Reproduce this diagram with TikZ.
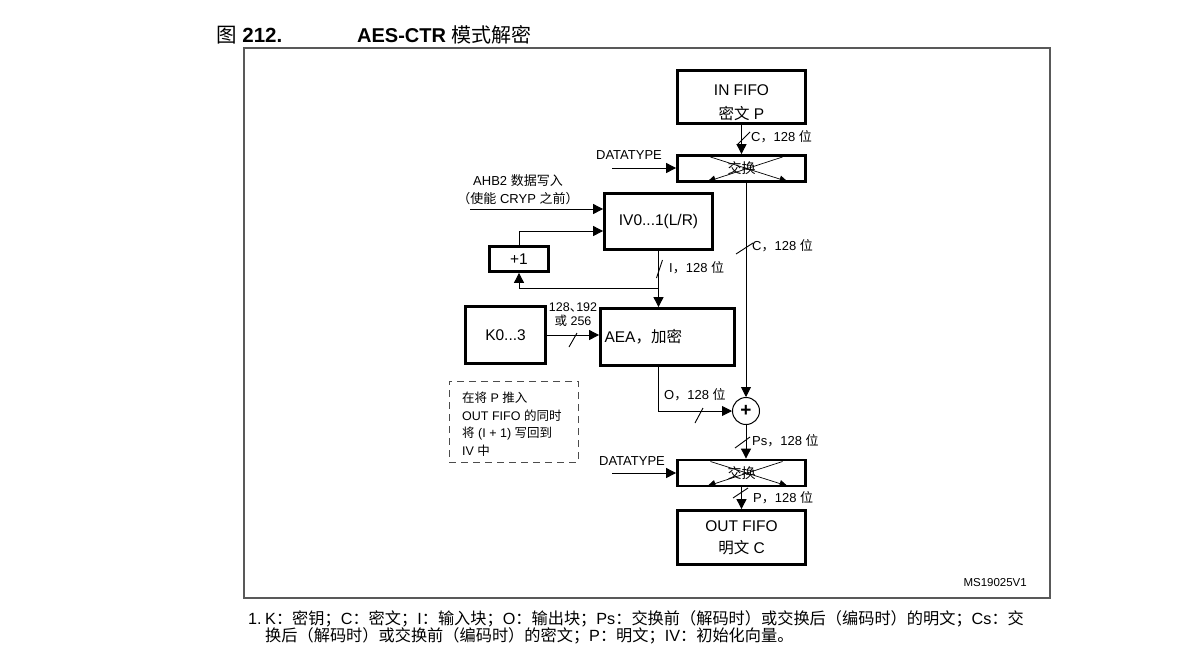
\documentclass[tikz,border=0pt]{standalone}
\usepackage{fontspec}
\setmainfont{Liberation Sans}
\newfontfamily\cjk{Noto Sans CJK SC}
\newcommand\zh[1]{{\cjk #1}}
\usetikzlibrary{arrows.meta}

\begin{document}
\begin{tikzpicture}[x=1pt,y=-1pt,
	blk/.style={draw, line width=2.8pt, inner sep=0pt, align=center, font=\fontsize{15.5}{24}\selectfont},
	swapbox/.style={blk, minimum width=128pt, minimum height=26pt, font=\fontsize{14}{16}\selectfont},
	lbl/.style={inner sep=0pt, anchor=west, font=\fontsize{13}{15}\selectfont},
	fn/.style={inner sep=0pt, anchor=west, font=\fontsize{16.2}{18}\selectfont},
	bus/.style={line width=0.9pt},
	arr/.style={line width=0.9pt, -{Triangle[length=10pt,width=10pt]}},
	xarr/.style={line width=0.7pt, -{Triangle[length=8pt,width=7pt]}}]

\useasboundingbox (0,0) rectangle (1187,654);

% title and frame
\node[anchor=west, inner sep=0pt, font=\fontsize{20.5}{22}\selectfont] (fignum) at (216,35) {\zh{图} \textbf{212.}};
\node[anchor=west, inner sep=0pt, font=\fontsize{20}{22}\selectfont] (title) at (357,35) {\textbf{AES-CTR} \zh{模式解密}};
\draw[line width=1.6pt, black!65] (244,48) rectangle (1050,598);

% blocks
\node[blk, minimum width=128pt, minimum height=53pt] (infifo) at (741.5,97) {\rule{0pt}{23pt}IN FIFO\\\zh{密文} P};
\node[swapbox] (swap1) at (741.5,168.5) {\zh{交换}};
\node[blk, minimum width=108pt, minimum height=56pt] (iv) at (658.5,221.5) {IV0...1(L/R)};
\node[blk, minimum width=59pt, minimum height=25pt] (plus1) at (519,259) {+1};
\node[blk, minimum width=80pt, minimum height=57pt] (kkey) at (505.5,335) {K0...3};
\node[blk, minimum width=134pt, minimum height=57pt, text width=126pt, align=left] (aea) at (667.5,337) {AEA\zh{，加密}};
\node[circle, draw, line width=1pt, minimum size=27pt, inner sep=0pt, font=\fontsize{19}{19}\selectfont\bfseries] (xor) at (746,411) {+};
\node[swapbox] (swap2) at (741.5,473) {\zh{交换}};
\node[blk, minimum width=128pt, minimum height=54pt] (outfifo) at (741.5,537.5) {OUT FIFO\\[-2pt]\zh{明文} C};

% swap crosses
\foreach \s in {swap1,swap2}{
	\draw[xarr] ([shift={(-31,-11.5)}]\s.center) -- ([shift={(46,13)}]\s.center);
	\draw[xarr] ([shift={(41,-11.5)}]\s.center) -- ([shift={(-34,13)}]\s.center);
}

% data path
\draw[arr] (infifo) -- (swap1);
\draw[arr] (swap1.south -| xor) -- (xor);
\draw[arr] (xor) -- (xor |- swap2.north);
\draw[arr] (swap2) -- (outfifo);

\coordinate (dt1) at (612,168);
\coordinate (dt2) at (612,473);
\draw[arr] (dt1) -- (dt1 -| swap1.west);
\draw[arr] (dt2) -- (dt2 -| swap2.west);
\node[lbl, anchor=center] (dt1lbl) at (629,155) {DATATYPE};
\node[lbl, anchor=center] (dt2lbl) at (632,461) {DATATYPE};

\coordinate (ahb) at (470,209);
\draw[arr] (ahb) -- (ahb -| iv.west);
\node[lbl, anchor=center, align=center, font=\fontsize{13}{18}\selectfont] (ahblbl) at (518,190) {AHB2 \zh{数据写入}\\\zh{（使能} CRYP \zh{之前）}};

\draw[arr] (plus1.north) |- ([yshift=-9.5pt]iv.west);
\draw[arr] (iv.south) -- (iv.south |- aea.north);
\coordinate (brk) at (0,288);
\coordinate (br) at (iv.south |- brk);
\draw[arr] (br) -| (plus1.south);

\draw[arr] (kkey.east) -- (kkey.east -| aea.west);
\draw[arr] (aea.south -| br) |- (xor);

% bus widths
\draw[bus] (737,145) -- (750,132);
\draw[bus] (736,254) -- (753,243);
\draw[bus] (656.5,278) -- (662.5,260);
\draw[bus] (569,347) -- (577,333);
\draw[bus] (695,423) -- (703,408);
\draw[bus] (735,448) -- (750,437);
\draw[bus] (733,498) -- (748,488);

\node[lbl] (c1lbl) at (751,137) {C\zh{，}128 \zh{位}};
\node[lbl] (c2lbl) at (752,246) {C\zh{，}128 \zh{位}};
\node[lbl] (ilbl) at (669,268) {I\zh{，}128 \zh{位}};
\node[lbl, anchor=center, align=center, font=\fontsize{12.5}{14}\selectfont] (klbl) at (573,315) {128\zh{、}\kern-6pt192\\\zh{或} 256};
\node[lbl] (olbl) at (664,395) {O\zh{，}128 \zh{位}};
\node[lbl] (pslbl) at (752,441) {Ps\zh{，}128 \zh{位}};
\node[lbl] (plbl) at (753,498) {P\zh{，}128 \zh{位}};

% note
\node[draw, dash pattern=on 7pt off 5pt, line width=1pt, black!70, minimum width=129pt, minimum height=81pt] (note) at (513.5,421.5) {};
\node[anchor=west, inner sep=0pt, align=left, font=\fontsize{12.5}{17.5}\selectfont] (notetxt) at (462,424) {\zh{在将} P \zh{推入}\\OUT FIFO \zh{的同时}\\\zh{将} (I + 1) \zh{写回到}\\IV \zh{中}};

\node[anchor=east, inner sep=0pt, font=\fontsize{11.5}{13}\selectfont] (msid) at (1027,583) {MS19025V1};

% footnote
\node[fn] (fnnum) at (248,619) {1.};
\node[fn] (fn1) at (265,619) {K\zh{：密钥；}C\zh{：密文；}I\zh{：输入块；}O\zh{：输出块；}Ps\zh{：交换前（解码时）或交换后（编码时）的明文；}Cs\zh{：交}};
\node[fn] (fn2) at (265,636) {\zh{换后（解码时）或交换前（编码时）的密文；}P\zh{：明文；}IV\zh{：初始化向量。}};
\end{tikzpicture}
\end{document}
